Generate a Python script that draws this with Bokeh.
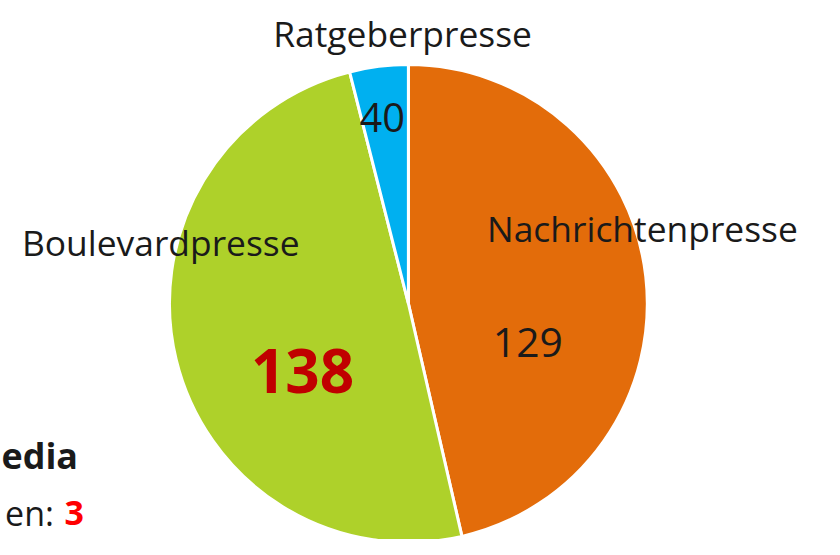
import math
from bokeh.plotting import figure
from bokeh.models import Range1d, ColumnDataSource
from bokeh.core.properties import value
from bokeh.embed import file_html
from bokeh.resources import INLINE

# ---- data ----
categories = ["Nachrichtenpresse", "Boulevardpresse", "Ratgeberpresse"]
slice_sizes = [129, 138, 11]          # angular size of each slice as drawn
label_values = ["129", "138", "40"]   # numbers printed on the slices
colors = ["#E36C0A", "#AED12A", "#00B0F0"]
side_title = "edia"
side_note = "en:"
side_note_value = "3"

# ---- layout (reference pixel space 840x555, y measured from the top) ----
REF_W, REF_H = 840, 555
FW, FH = 824, 539              # figure size that fits the window with 8px margin
S = FH / REF_H                 # uniform scale, keeps the pie round
XMAX = FW / S
cx, cy, R = 420, 312, 246

def Y(y):
    return REF_H - y

def fs(px):
    return f"{px * S:.1f}px"

p = figure(width=FW, height=FH, output_backend="svg",
           toolbar_location=None, x_range=Range1d(0, XMAX),
           y_range=Range1d(0, REF_H), min_border=0)
p.axis.visible = False
p.grid.visible = False
p.outline_line_color = None
p.background_fill_color = "white"
p.border_fill_color = "white"

total = sum(slice_sizes)
starts, ends = [], []
acc = 0.0
for v in slice_sizes:
    a0 = math.pi / 2 - 2 * math.pi * acc / total
    acc += v
    a1 = math.pi / 2 - 2 * math.pi * acc / total
    starts.append(a0)
    ends.append(a1)

src = ColumnDataSource(dict(start=starts, end=ends, color=colors, cat=categories))
p.wedge(x=cx, y=Y(cy), radius=R, start_angle="start", end_angle="end",
        direction="clock", fill_color="color", line_color="white",
        line_width=3, source=src)

font = value("Open Sans")
txt = "#1a1a1a"

# category labels
cat_pos = [(661, 234), (165, 249), (414, 33)]
for name, (x, y) in zip(categories, cat_pos):
    p.text(x=[x], y=[Y(y)], text=[name], text_font=font, text_font_size=fs(36.5),
           text_align="center", text_baseline="alphabetic", text_color=txt)

# value labels
val_pos = [(543, 352), (311, 381), (393, 120)]
val_size = [42, 62, 41]
val_style = ["normal", "bold", "normal"]
val_color = [txt, "#C00000", txt]
for t, (x, y), s, st, c in zip(label_values, val_pos, val_size, val_style, val_color):
    p.text(x=[x], y=[Y(y)], text=[t], text_font=font, text_font_size=fs(s),
           text_font_style=st, text_align="center", text_baseline="alphabetic",
           text_color=c)

# side texts at the lower left
p.text(x=[1], y=[Y(468)], text=[side_title], text_font=font, text_font_size=fs(37),
       text_font_style="bold", text_align="left", text_baseline="alphabetic",
       text_color=txt)
p.text(x=[55], y=[Y(528)], text=[side_note], text_font=font, text_font_size=fs(35),
       text_align="right", text_baseline="alphabetic", text_color=txt)
p.text(x=[66], y=[Y(528)], text=[side_note_value], text_font=font, text_font_size=fs(35),
       text_font_style="bold", text_align="left", text_baseline="alphabetic",
       text_color="#FF0000")

open("out.html", "w").write(file_html(p, INLINE))
